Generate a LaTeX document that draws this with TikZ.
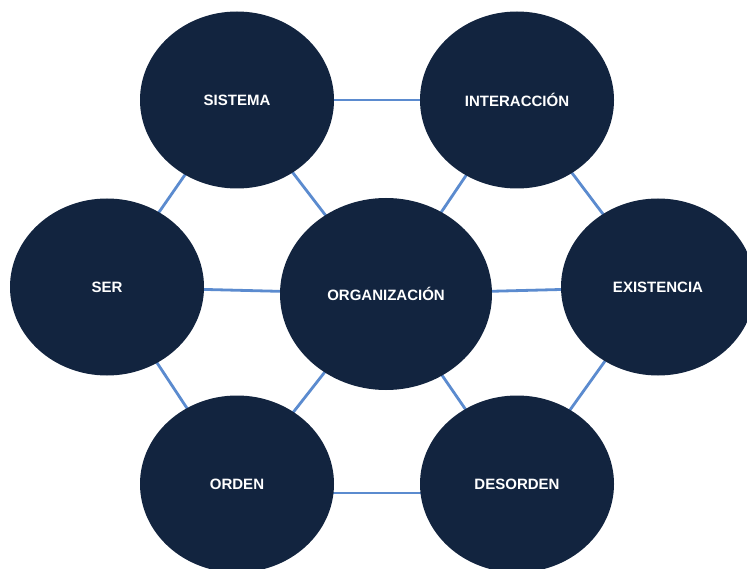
\documentclass[tikz,border=0pt]{standalone}
\usepackage{fontspec}
\setmainfont{Liberation Sans}
\usetikzlibrary{shapes.geometric,backgrounds}
\definecolor{navy}{HTML}{12243F}
\definecolor{linkblue}{HTML}{5B8BCF}
\begin{document}
\begin{tikzpicture}[x=1pt,y=-1pt,
  bubble/.style={ellipse, fill=navy, inner sep=0pt, text=white,
    minimum width=194pt, minimum height=177pt,
    font=\bfseries\fontsize{15}{18}\selectfont},
  bigbubble/.style={bubble, minimum width=212pt, minimum height=192pt},
  link/.style={draw=linkblue, line width=2.8pt}]
\useasboundingbox (0,0) rectangle (747,569);
\node[bubble] (sistema) at (237,100) {SISTEMA};
\node[bubble] (interaccion) at (517,100) {INTERACCIÓN};
\node[bubble] (ser) at (107,287) {SER};
\node[bigbubble] (organizacion) at (386,294) {ORGANIZACIÓN};
\node[bubble] (existencia) at (658,287) {EXISTENCIA};
\node[bubble] (orden) at (237,484) {ORDEN};
\node[bubble] (desorden) at (517,484) {DESORDEN};
\begin{scope}[on background layer]
\path[fill=white] (0,0) rectangle (747,569);
\draw[link] (sistema.center) -- (interaccion.center);
\draw[link] (sistema.center) -- (ser.center);
\draw[link] (sistema.center) -- (organizacion.center);
\draw[link] (interaccion.center) -- (organizacion.center);
\draw[link] (interaccion.center) -- (existencia.center);
\draw[link] (ser.center) -- (organizacion.center);
\draw[link] (organizacion.center) -- (existencia.center);
\draw[link] (ser.center) -- (orden.center);
\draw[link] (organizacion.center) -- (orden.center);
\draw[link] (organizacion.center) -- (desorden.center);
\draw[link] (existencia.center) -- (desorden.center);
\draw[link] ([yshift=-9pt]orden.center) -- ([yshift=-9pt]desorden.center);
\end{scope}
\end{tikzpicture}
\end{document}
